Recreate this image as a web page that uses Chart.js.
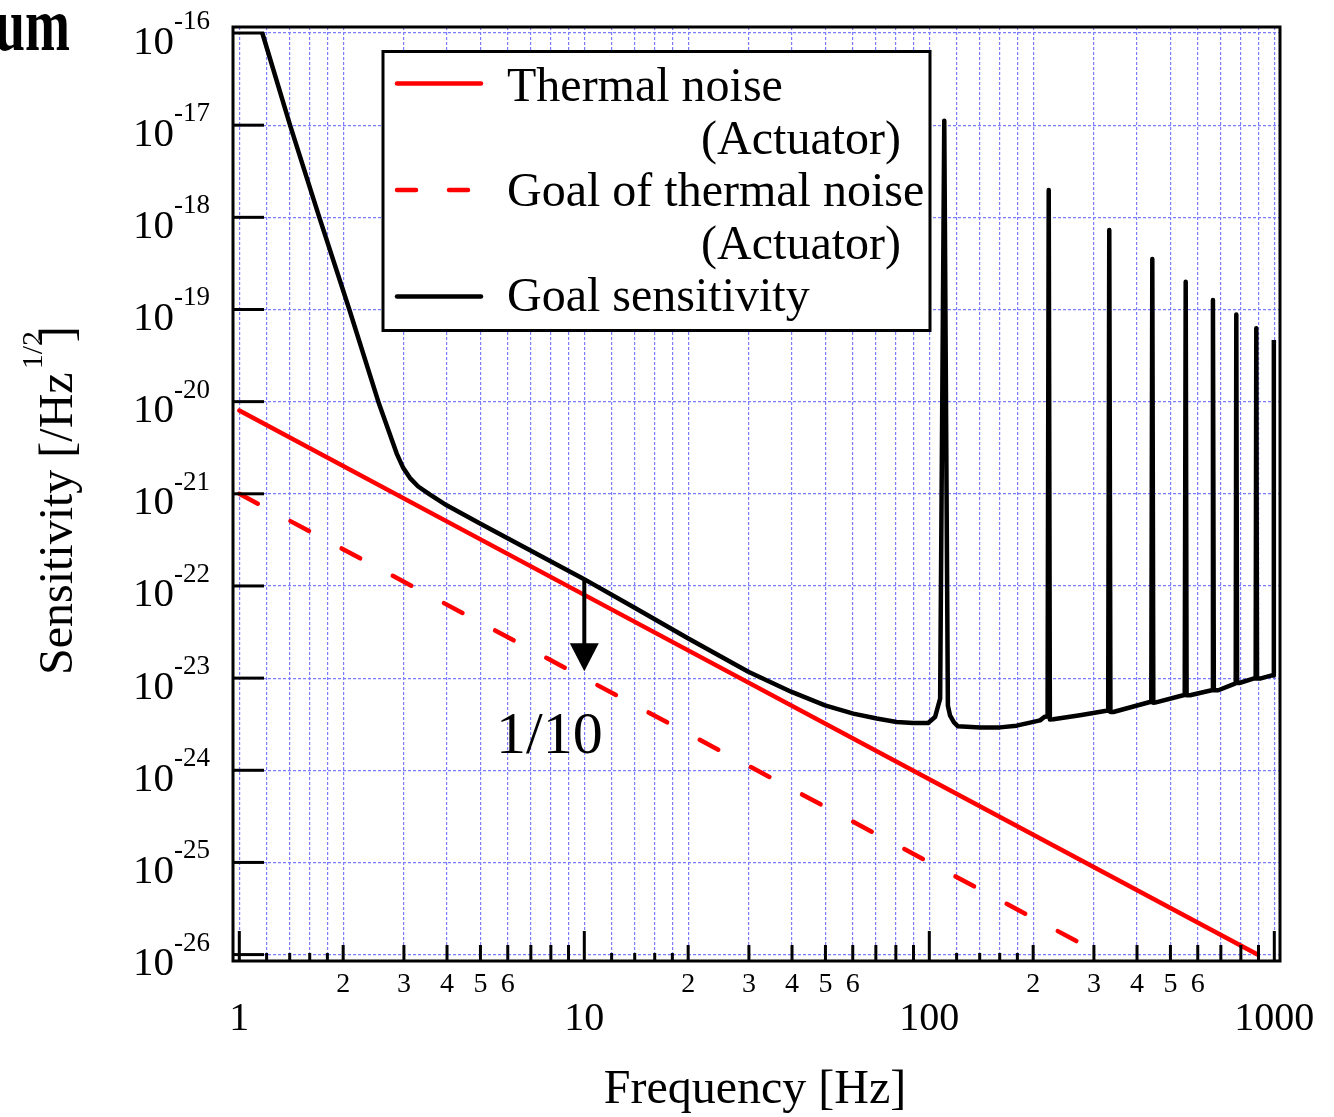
<!DOCTYPE html>
<html>
<head>
<meta charset="utf-8">
<script src="https://cdn.jsdelivr.net/npm/chart.js@4.4.1/dist/chart.umd.min.js"></script>
<style>
  html, body { margin: 0; padding: 0; background: #ffffff; }
  canvas { display: block; }
</style>
</head>
<body>
<canvas id="chart" width="1334" height="1117"></canvas>
<script>
// ---- data -------------------------------------------------------------
// Thermal noise of the actuator [/Hz^1/2]
const FREQ_THERMAL = [1, 10, 100, 894];
const THERMAL_NOISE = [8.0e-21, 8.0e-23, 8.0e-25, 1.0e-26];

// Goal of the actuator thermal noise
const FREQ_GOAL_THERMAL = [1, 10, 100, 316];
const GOAL_THERMAL_NOISE = [1.0e-21, 1.0e-23, 1.0e-25, 1.0e-26];

// Goal sensitivity (seismic wall, bucket, violin-mode resonances)
const FREQ_SENS = [
  1.166, 1.403, 1.706, 2.084, 2.529, 2.859, 2.988, 3.125, 3.30, 3.571,
  3.99, 4.985, 6.96, 9.93, 13.87, 20.02, 29.88, 39.9, 49.86, 60.2,
  70.4, 80.4, 89.9, 99.2, 103.9, 107.5, 110.5, 113.2, 114.8, 117.9,
  121.1, 140.3, 160.3, 179.2, 209.4, 215.5, 220.2, 221.9, 223.6, 228.8,
  273.4, 323, 330, 332.4, 335, 341.5, 436.1, 440, 443, 446,
  451, 544.7, 550, 553.6, 557, 569.8, 658.5, 661, 664, 668,
  688.2, 769.2, 773, 776, 780, 791.6, 869.4, 883, 886.8, 891,
  909, 983, 993, 997
];
const GOAL_SENS = [
  1.0e-16, 1.0e-17, 1.0e-18, 1.0e-19, 1.0e-20, 2.73e-21, 1.90e-21, 1.48e-21, 1.20e-21, 9.8e-22,
  7.5e-22, 4.75e-22, 2.44e-22, 1.20e-22, 5.92e-23, 2.69e-23, 1.17e-23, 7.08e-24, 5.07e-24, 4.12e-24,
  3.64e-24, 3.34e-24, 3.26e-24, 3.26e-24, 3.78e-24, 6.0e-24, 1.12e-17, 5.0e-24, 3.95e-24, 3.31e-24,
  3.0e-24, 2.92e-24, 2.92e-24, 3.05e-24, 3.48e-24, 3.78e-24, 3.85e-24, 1.98e-18, 3.55e-24, 3.57e-24,
  3.95e-24, 4.4e-24, 4.45e-24, 7.28e-19, 4.3e-24, 4.29e-24, 5.51e-24, 5.55e-24, 3.53e-19, 5.4e-24,
  5.42e-24, 6.51e-24, 6.55e-24, 2.0e-19, 6.5e-24, 6.51e-24, 7.38e-24, 7.4e-24, 1.27e-19, 7.38e-24,
  7.38e-24, 8.73e-24, 8.8e-24, 8.8e-20, 8.85e-24, 8.85e-24, 9.89e-24, 9.9e-24, 6.25e-20, 9.89e-24,
  9.89e-24, 1.07e-23, 1.07e-23, 4.67e-20
];

// axis ticks and labels
const X_DECADES = [1, 10, 100, 1000];
const X_DECADE_LABELS = ['1', '10', '100', '1000'];
const X_FINE_MANTISSAS = [1.2, 1.4, 1.6, 1.8];
const X_MINOR_MANTISSAS = [2, 3, 4, 5, 6, 7, 8, 9];
const X_MINOR_LABELS = ['2', '3', '4', '5', '6'];
const Y_EXPONENTS = [-16, -17, -18, -19, -20, -21, -22, -23, -24, -25, -26];

// arrow from the goal sensitivity down to the goal of the thermal noise
const ARROW_FREQ = 10;
const ARROW_FROM = 1.15e-22;
const ARROW_TO = 1.19e-23;
const ARROW_TEXT = '1/10';

const LEGEND_ENTRIES = [
  { lines: ['Thermal noise', '(Actuator)'], color: '#ff0000', dash: [] },
  { lines: ['Goal of thermal noise', '(Actuator)'], color: '#ff0000', dash: [19, 33] },
  { lines: ['Goal sensitivity'], color: '#000000', dash: [] }
];

const X_TITLE = 'Frequency [Hz]';
const Y_TITLE = 'Sensitivity [/Hz';
const Y_TITLE_SUP = '1/2';
const Y_TITLE_END = ']';
const CORNER_TEXT = 'um';

// ---- helpers -----------------------------------------------------------
const SERIF = '"Liberation Serif", "Times New Roman", Times, serif';
const pts = (xs, ys) => xs.map((f, i) => ({ x: f, y: ys[i] }));

const X_GRID = [];
X_DECADES.slice(0, 3).forEach(d => {
  X_GRID.push(d);
  X_FINE_MANTISSAS.forEach(m => X_GRID.push(+(m * d).toPrecision(6)));
  X_MINOR_MANTISSAS.forEach(m => X_GRID.push(m * d));
});
X_GRID.push(1000);

const GRID_COLOR = '#7c7cff';

function seg(ctx, x1, y1, x2, y2) {
  ctx.beginPath();
  ctx.moveTo(x1, y1);
  ctx.lineTo(x2, y2);
  ctx.stroke();
}

const decorations = {
  id: 'decorations',
  beforeDraw(chart) {
    const ctx = chart.ctx;
    ctx.save();
    ctx.fillStyle = '#ffffff';
    ctx.fillRect(0, 0, chart.width, chart.height);
    ctx.restore();
  },
  afterDatasetsDraw(chart) {
    const { ctx, chartArea: a } = chart;
    const xs = chart.scales.x, ys = chart.scales.y;
    ctx.save();

    // frame
    ctx.strokeStyle = '#000';
    ctx.lineWidth = 3;
    ctx.lineCap = 'butt';
    ctx.strokeRect(a.left, a.top, a.right - a.left, a.bottom - a.top);

    // y decade ticks + labels
    ctx.fillStyle = '#000';
    Y_EXPONENTS.forEach(e => {
      const py = ys.getPixelForValue(Math.pow(10, e));
      ctx.lineWidth = 3;
      seg(ctx, a.left, py, a.left + 31, py);
      ctx.font = '41px ' + SERIF;
      ctx.textAlign = 'right';
      ctx.textBaseline = 'alphabetic';
      ctx.fillText('10', 174, py + 20.5);
      ctx.font = '27px ' + SERIF;
      ctx.textAlign = 'left';
      ctx.fillText(String(e), 174, py - 4);
    });

    // x ticks
    ctx.lineWidth = 3;
    X_DECADES.forEach((d, i) => {
      const px = xs.getPixelForValue(d);
      seg(ctx, px, a.bottom, px, a.bottom - 30);
      ctx.font = '40px ' + SERIF;
      ctx.textAlign = 'center';
      ctx.fillText(X_DECADE_LABELS[i], px, 1030);
      if (i < 3) {
        X_FINE_MANTISSAS.forEach(m => {
          const p = xs.getPixelForValue(m * d);
          seg(ctx, p, a.bottom, p, a.bottom - 8);
        });
        X_MINOR_MANTISSAS.forEach(m => {
          const p = xs.getPixelForValue(m * d);
          seg(ctx, p, a.bottom, p, a.bottom - 16);
        });
        ctx.font = '28px ' + SERIF;
        X_MINOR_LABELS.forEach(lbl => {
          const p = xs.getPixelForValue(+lbl * d);
          ctx.fillText(lbl, p, 991.5);
        });
      }
    });

    // axis titles
    ctx.font = '48px ' + SERIF;
    ctx.textAlign = 'center';
    ctx.fillText(X_TITLE, 755, 1103);

    ctx.save();
    ctx.translate(72, 675);
    ctx.rotate(-Math.PI / 2);
    ctx.textAlign = 'left';
    ctx.font = '48px ' + SERIF;
    ctx.fillText(Y_TITLE, 0, 0);
    const w = ctx.measureText(Y_TITLE).width;
    ctx.font = '30px ' + SERIF;
    ctx.fillText(Y_TITLE_SUP, w + 3, -30);
    ctx.font = '48px ' + SERIF;
    ctx.fillText(Y_TITLE_END, w + 30, 0);
    ctx.restore();

    // legend
    ctx.fillStyle = '#ffffff';
    ctx.fillRect(383, 51.5, 547, 279);
    ctx.strokeStyle = '#000';
    ctx.lineWidth = 3;
    ctx.strokeRect(383, 51.5, 547, 279);
    const sampleY = [83.5, 190, 296.5];
    const textY = [[101, 153.5], [206, 258.5], [311]];
    LEGEND_ENTRIES.forEach((ent, i) => {
      ctx.strokeStyle = ent.color;
      ctx.lineWidth = 4.5;
      ctx.lineCap = 'round';
      ctx.setLineDash(ent.dash);
      seg(ctx, 397, sampleY[i], 481, sampleY[i]);
      ctx.setLineDash([]);
      ctx.fillStyle = '#000';
      ctx.font = '48px ' + SERIF;
      ctx.textAlign = 'left';
      ctx.fillText(ent.lines[0], 507, textY[i][0]);
      if (ent.lines[1]) {
        ctx.textAlign = 'right';
        ctx.fillText(ent.lines[1], 901, textY[i][1]);
      }
    });

    // arrow
    const ax = xs.getPixelForValue(ARROW_FREQ);
    const ay0 = ys.getPixelForValue(ARROW_FROM);
    const ay1 = ys.getPixelForValue(ARROW_TO);
    ctx.strokeStyle = '#000';
    ctx.fillStyle = '#000';
    ctx.lineCap = 'butt';
    ctx.lineWidth = 4;
    seg(ctx, ax, ay0, ax, ay1 - 24);
    ctx.beginPath();
    ctx.moveTo(ax - 14.5, ay1 - 28);
    ctx.lineTo(ax + 14.5, ay1 - 28);
    ctx.lineTo(ax, ay1);
    ctx.closePath();
    ctx.fill();
    ctx.font = '60px ' + SERIF;
    ctx.textAlign = 'center';
    ctx.fillText(ARROW_TEXT, ax - 35, ay1 + 82);

    // corner heading fragment
    ctx.save();
    ctx.font = 'bold 76px ' + SERIF;
    ctx.textAlign = 'left';
    ctx.translate(-5, 50);
    ctx.scale(0.71, 1);
    ctx.fillText(CORNER_TEXT, 0, 0);
    ctx.restore();

    ctx.restore();
  }
};

const gridAxis = (type, min, max, ticksFn) => ({
  type,
  min,
  max,
  afterBuildTicks: ticksFn,
  afterFit(scale) {
    if (scale.isHorizontal()) scale.height = 0; else scale.width = 0;
  },
  ticks: { display: false, autoSkip: false },
  grid: { color: GRID_COLOR, lineWidth: 1.2, drawTicks: false },
  border: { display: false, dash: [3, 2] },
  title: { display: false }
});

new Chart(document.getElementById('chart'), {
  type: 'line',
  data: {
    datasets: [
      {
        label: 'Goal sensitivity',
        data: pts(FREQ_SENS, GOAL_SENS),
        borderColor: '#000000',
        borderWidth: 4.5,
        borderJoinStyle: 'round',
        borderCapStyle: 'butt',
        pointRadius: 0,
        tension: 0,
        fill: false
      },
      {
        label: 'Thermal noise (Actuator)',
        data: pts(FREQ_THERMAL, THERMAL_NOISE),
        borderColor: '#ff0000',
        borderWidth: 4.5,
        borderCapStyle: 'round',
        pointRadius: 0,
        tension: 0,
        fill: false
      },
      {
        label: 'Goal of thermal noise (Actuator)',
        data: pts(FREQ_GOAL_THERMAL, GOAL_THERMAL_NOISE),
        borderColor: '#ff0000',
        borderWidth: 4.5,
        borderCapStyle: 'round',
        borderDash: [21, 37],
        pointRadius: 0,
        tension: 0,
        fill: false
      }
    ]
  },
  options: {
    responsive: false,
    animation: false,
    devicePixelRatio: 1,
    events: [],
    layout: { padding: { left: 233, top: 27, right: 54, bottom: 156 } },
    plugins: { legend: { display: false }, tooltip: { enabled: false } },
    scales: {
      x: gridAxis('logarithmic', 0.9588, 1038.8, s => { s.ticks = X_GRID.map(v => ({ value: v })); }),
      y: gridAxis('logarithmic', 8.52e-27, 1.162e-16, s => { s.ticks = Y_EXPONENTS.map(e => ({ value: Math.pow(10, e) })); })
    }
  },
  plugins: [decorations]
});
</script>
</body>
</html>
